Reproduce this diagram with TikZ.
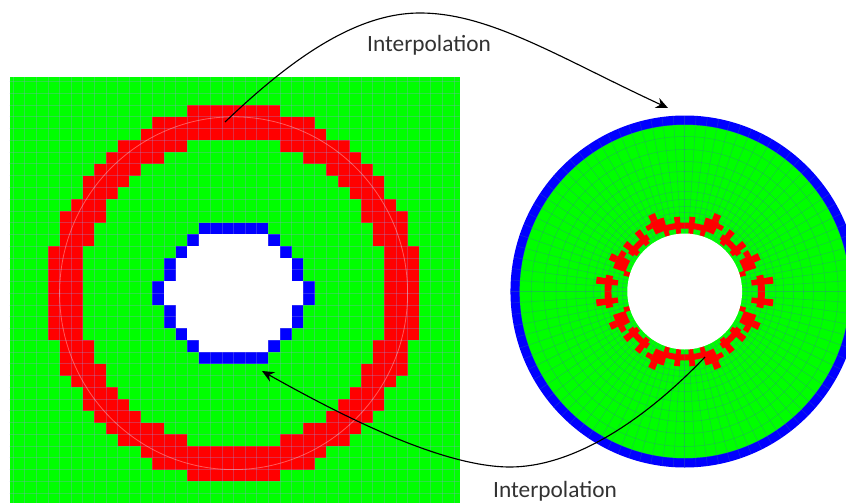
\documentclass[tikz,border=0pt]{standalone}
\usepackage{fontspec}
\setmainfont{Carlito}
\usetikzlibrary{arrows.meta}
\definecolor{celdaverde}{RGB}{0,255,0}
\definecolor{celdaroja}{RGB}{255,0,0}
\definecolor{celdaazul}{RGB}{0,0,255}
\definecolor{mallado}{RGB}{150,150,230}
\definecolor{mallapolar}{RGB}{60,110,170}
\definecolor{textogris}{RGB}{50,50,50}
\tikzset{
    malla/.style={mallado, opacity=0.3, line width=0.55pt},
    mallap/.style={mallapolar, opacity=0.35, line width=0.4pt},
    flecha/.style={black, line width=0.85pt, -{Stealth[length=9pt,width=8pt]}},
    rotulo/.style={textogris, font=\fontsize{17.5}{19}\selectfont}
}
% celda polar: radio interior, radio exterior, angulos desde la vertical
\newcommand{\polcell}[4]{%
    \fill[celdaroja] plot[domain=#3:#4,samples=7] ({90-\x}:#1)
        -- plot[domain=#4:#3,samples=7] ({90-\x}:#2) -- cycle;}

\begin{document}
\begin{tikzpicture}[x=0.75pt, y=-0.75pt, >=Stealth]
    \clip (0,0) rectangle (846,503);
    % malla cartesiana
    \fill[celdaverde] (9.5,77.3) rectangle (459.5,510);
    \begin{scope}
        \clip (9.5,77.3) rectangle (459.5,510);
        \begin{scope}[shift={(233.6,293.2)}, x=8.7pt, y=8.82pt]
            % filas: fila / borde exterior / borde interior
            \foreach \sx in {1,-1} \foreach \sy in {1,-1} {
                \foreach \r/\o/\n in {0/16/13,1/16/13,2/16/13,3/16/13,4/15/12,5/15/12,
                    6/15/11,7/14/11,8/13/10,9/13/9,10/12/8,11/11/6,12/10/4,13/8/0,14/7/0,15/4/0}
                    \fill[celdaroja] (\sx*\n,\sy*\r) rectangle (\sx*\o,\sy*\r+\sy);
                \foreach \r/\o/\n in {0/7/6,1/6/5,2/6/5,3/5/4,4/4/3,5/3/0}
                    \fill[celdaazul] (\sx*\n,\sy*\r) rectangle (\sx*\o,\sy*\r+\sy);
            }
            \foreach \i in {-19,...,19} \draw[malla] (\i,-19) -- (\i,19);
            \foreach \j in {-19,...,19} \draw[malla] (-20,\j) -- (20,\j);
            % hueco central
            \foreach \sx in {1,-1} \foreach \sy in {1,-1} {
                \foreach \r/\n in {0/6,1/5,2/5,3/4,4/3}
                    \fill[white] (0,\sy*\r) rectangle (\sx*\n,\sy*\r+\sy);
            }
            \draw[white, opacity=0.35, line width=0.6pt] (0,0) circle (15);
        \end{scope}
    \end{scope}
    % malla polar
    \begin{scope}[shift={(684.7,291.5)}, xscale=0.99]
        \fill[celdaazul] (0,0) circle (176);
        \fill[celdaverde] (0,0) circle (166.7);
        \foreach \rad in {63,68,73.5,79,85,92,100,110,120,130,142,155,166.7}
            \draw[mallap] (0,0) circle (\rad);
        \foreach \k in {0,...,95}
            \draw[mallap] ({3.75*\k}:58) -- ({3.75*\k}:176);
        \foreach \sx/\sy in {1/1,-1/1,1/-1,-1/-1} {
            \begin{scope}[xscale=\sx, yscale=\sy]
                \polcell{63}{69}{0}{18}
                \polcell{58}{75}{3.7}{8.3}
                \polcell{64}{77}{16}{27}
                \polcell{77}{84}{21}{26}
                \polcell{71}{76}{27}{31.5}
                \polcell{58}{64}{15}{19.5}
                \polcell{63}{69}{34}{56}
                \polcell{60}{77}{36}{41}
                \polcell{60}{77}{49}{54}
                \polcell{63}{76}{61}{72}
                \polcell{76}{83}{62.5}{67.5}
                \polcell{58}{64}{71}{75.5}
                \polcell{70}{76}{57}{61}
                \polcell{74}{81}{78}{90}
                \polcell{68}{90}{80.5}{85}
            \end{scope}
        }
        \fill[white] (0,0) circle (58);
    \end{scope}
    % conexiones
    \coordinate (anillorojo) at (225,122);
    \coordinate (cimaarco) at (420,13);
    \coordinate (bordedisco) at (668,108);
    \coordinate (cruzroja) at (705,357);
    \coordinate (fondoarco) at (510,467);
    \coordinate (huecoazul) at (262,371);
    \draw[flecha] (anillorojo) .. controls (290,60) and (355,13) .. (cimaarco)
        .. controls (490,13) and (560,58) .. (bordedisco);
    \draw[flecha] (cruzroja) .. controls (640,425) and (570,467) .. (fondoarco)
        .. controls (440,467) and (335,412) .. (huecoazul);
    \node[rotulo] (rotarriba) at (429,45) {Interpolation};
    \node[rotulo] (rotabajo) at (555,491.5) {Interpolation};
\end{tikzpicture}
\end{document}
